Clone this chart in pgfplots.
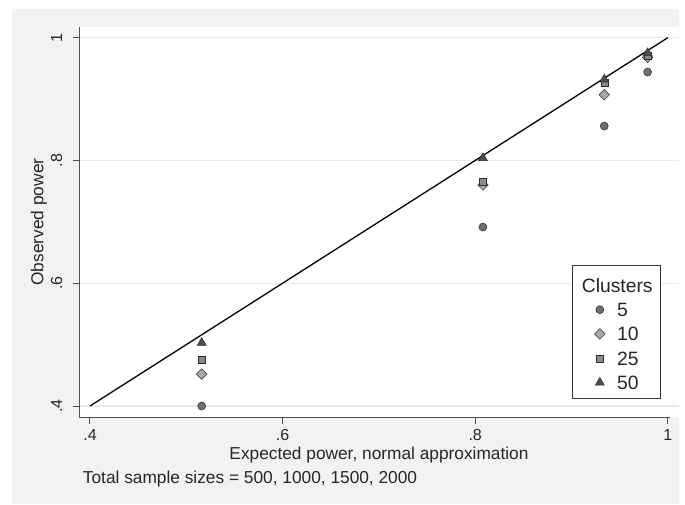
\documentclass[border=0pt]{standalone}
\usepackage{fontspec}
\setmainfont{Liberation Sans}
\usepackage{pgfplots}
\pgfplotsset{compat=1.18}
\definecolor{bggray}{RGB}{242,242,242}
\definecolor{gridgray}{RGB}{234,234,234}
\definecolor{axgray}{RGB}{80,80,80}
\definecolor{mkedge}{RGB}{45,45,45}
\definecolor{mkA}{RGB}{110,110,110}
\definecolor{mkB}{RGB}{168,168,168}
\definecolor{mkC}{RGB}{138,138,138}
\definecolor{mkD}{RGB}{78,78,78}

\pgfplotsset{
  legmark/.style={legend image code/.code={%
    \path (0pt,0pt) (17pt,0pt);
    \draw[mark repeat=2,mark phase=2,##1] plot coordinates {(0pt,0pt) (8.5pt,0pt) (17pt,0pt)};}},
}
\newcommand{\legtxt}[1]{\rule[-1.6pt]{0pt}{17pt}\makebox[23pt][l]{#1}}

\begin{document}
\begin{tikzpicture}
\fill[white] (0pt,0pt) rectangle (685pt,504pt);
\fill[bggray] (12pt,0pt) rectangle (679pt,495pt);
\begin{axis}[
  at={(79pt,87pt)}, anchor=south west,
  scale only axis, width=600pt, height=390pt,
  xmin=0.3886, xmax=1.0116, ymin=0.3821, ymax=1.0174,
  clip=false,
  axis background/.style={fill=white},
  axis x line*=bottom, axis y line*=left,
  axis line style={axgray, line width=1pt, -},
  x axis line style={shorten >=9pt},
  xtick={0.4,0.6,0.8,1}, xticklabels={.4,.6,.8,1},
  ytick={0.4,0.6,0.8,1}, yticklabels={.4,.6,.8,1},
  tick align=outside, major tick length=6.5pt,
  tick style={axgray, line width=1pt},
  ymajorgrids, grid style={gridgray, line width=1.2pt},
  tick label style={font=\fontsize{16}{19}\selectfont, inner sep=0pt, text=black!85},
  xticklabel style={anchor=north},
  yticklabel style={rotate=90, anchor=base},
  xticklabel shift=5.5pt, yticklabel shift=10.5pt,
  label style={font=\fontsize{17.3}{20}\selectfont, inner sep=0pt, text=black!85},
  xlabel={Expected power, normal approximation},
  xlabel style={at={(axis description cs:0.5,-0.1077)}, anchor=base},
  ylabel={Observed power},
  ylabel style={at={(axis description cs:-0.0595,0.5)}, anchor=base},
  legend cell align=left,
  legend style={at={(axis description cs:0.8217,0.3897)}, anchor=north west,
    draw=black!80, line width=0.8pt, fill=white,
    inner xsep=18.5pt, inner ysep=5.5pt, row sep=3.4pt, column sep=6.5pt,
    nodes={inner sep=2pt, font=\fontsize{19.3}{22}\selectfont, text=black!85}},
]
\addlegendimage{empty legend}
\addlegendentry{\rule[-4.2pt]{0pt}{23.6pt}\makebox[23pt][l]{\makebox[0pt]{Clusters}}}

\addplot[forget plot, black, line width=1.3pt] coordinates {(0.4,0.4) (1,1)};

\addplot[only marks, legmark, mark=*, mark size=4pt,
  mark options={fill=mkA, draw=mkedge, line width=0.5pt}]
  coordinates {(0.516,0.400) (0.808,0.6915) (0.934,0.856) (0.979,0.944)};
\addlegendentry{\legtxt{5}}
\addplot[only marks, legmark, mark=square*, mark size=3.75pt,
  mark options={rotate=45, fill=mkB, draw=mkedge, line width=0.5pt}]
  coordinates {(0.516,0.452) (0.808,0.760) (0.934,0.907) (0.979,0.968)};
\addlegendentry{\legtxt{10}}
\addplot[only marks, legmark, mark=square*, mark size=3.5pt,
  mark options={fill=mkC, draw=mkedge, line width=0.5pt}]
  coordinates {(0.516,0.475) (0.808,0.766) (0.934,0.927) (0.979,0.971)};
\addlegendentry{\legtxt{25}}
\addplot[only marks, legmark, mark=triangle*, mark size=5.2pt,
  mark options={fill=mkD, draw=mkedge, line width=0.5pt}]
  coordinates {(0.516,0.503) (0.808,0.804) (0.934,0.932) (0.979,0.975)};
\addlegendentry{\legtxt{50}}

\node[anchor=base west, inner sep=0pt, font=\fontsize{17.3}{20}\selectfont, text=black!85]
  at (axis description cs:0.0062,-0.17) {Total sample sizes = 500, 1000, 1500, 2000};
\end{axis}
\end{tikzpicture}
\end{document}
